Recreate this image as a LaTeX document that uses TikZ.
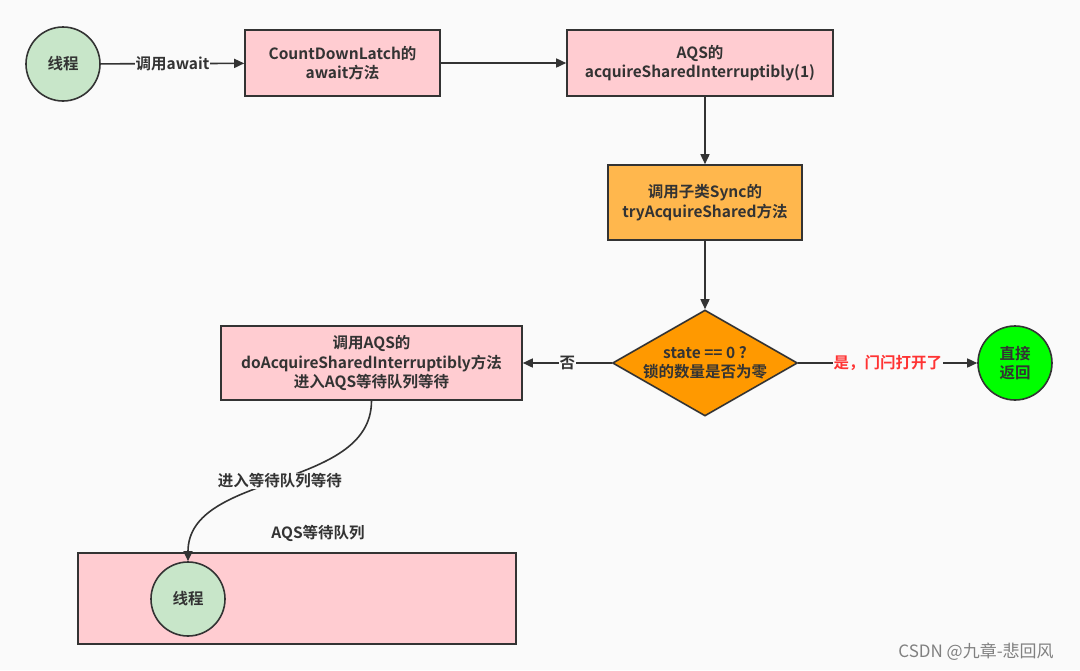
\documentclass[tikz,border=0pt]{standalone}
\usepackage{fontspec}
\setmainfont{Noto Sans CJK SC}[BoldFont={* Bold}]
\usepackage{tikz}
\usetikzlibrary{positioning,shapes.geometric,arrows.meta}

\definecolor{bgcol}{HTML}{FAFAFA}
\definecolor{linecol}{HTML}{333333}
\definecolor{pinkcol}{HTML}{FFCCD1}
\definecolor{mintcol}{HTML}{C8E6C9}
\definecolor{ambercol}{HTML}{FFB74D}
\definecolor{orangecol}{HTML}{FF9900}
\definecolor{limecol}{HTML}{00FF00}
\definecolor{redcol}{HTML}{FF3333}

\begin{document}
\begin{tikzpicture}[x=1pt, y=-1pt, line width=1.6pt,
  every node/.style={font=\fontsize{15.5}{19.5}\selectfont\bfseries, text=linecol, align=center},
  box/.style={rectangle, draw=linecol, inner sep=0pt},
  thread/.style={circle, draw=linecol, fill=mintcol, minimum size=74pt, inner sep=0pt},
  lab/.style={fill=bgcol, inner sep=1pt},
  flow/.style={draw=linecol, -{Triangle[length=10pt,width=9pt]}}]
\fill[bgcol] (0,0) rectangle (1080,670);
\useasboundingbox (0,0) rectangle (1080,670);

\node[thread] (t1) at (63,64) {线程};
\node[box, fill=pinkcol, minimum width=195pt, minimum height=66pt] (cdl) at (342.5,63) {CountDownLatch的\\await方法};
\node[box, fill=pinkcol, minimum width=266pt, minimum height=66pt] (aqs) at (700,63) {AQS的\\acquireSharedInterruptibly(1)};
\node[box, fill=ambercol, minimum width=194pt, minimum height=75pt] (sync) at (705,202.5) {调用子类Sync的\\tryAcquireShared方法};
\node[diamond, draw=linecol, fill=orangecol, minimum width=185pt, minimum height=106pt, inner sep=0pt, aspect=1.75] (chk) at (705,363) {state == 0 ?\\锁的数量是否为零};
\node[circle, draw=linecol, fill=limecol, minimum size=74pt, inner sep=0pt] (ret) at (1015,363) {直接\\返回};
\node[box, fill=pinkcol, minimum width=301pt, minimum height=74pt] (doacq) at (371.5,363) {调用AQS的\\doAcquireSharedInterruptibly方法\\进入AQS等待队列等待};
\node[box, fill=pinkcol, minimum width=438pt, minimum height=91pt] (queue) at (297,598.5) {};
\node (qtitle) at (318,533) {AQS等待队列};
\node[thread] (t2) at (188,599) {线程};
\node[font=\fontsize{17}{20}\selectfont, text=gray] (mark) at (976,652) {CSDN @九章-悲回风};

\draw[flow] (t1) -- node[lab] {调用await} (cdl);
\draw[flow] (cdl) -- (aqs.west |- cdl);
\draw[flow] (sync.north |- aqs.south) -- (sync);
\draw[flow] (sync) -- (chk);
\draw[flow] (chk) -- node[lab, text=redcol] {是，门闩打开了} (ret);
\draw[flow] (chk) -- node[lab, pos=0.5] {否} (doacq);
\draw[flow] (doacq.south) .. controls +(0,90) and +(0,-90) .. node[lab, pos=0.5] {进入等待队列等待} (t2.north);
\end{tikzpicture}
\end{document}
